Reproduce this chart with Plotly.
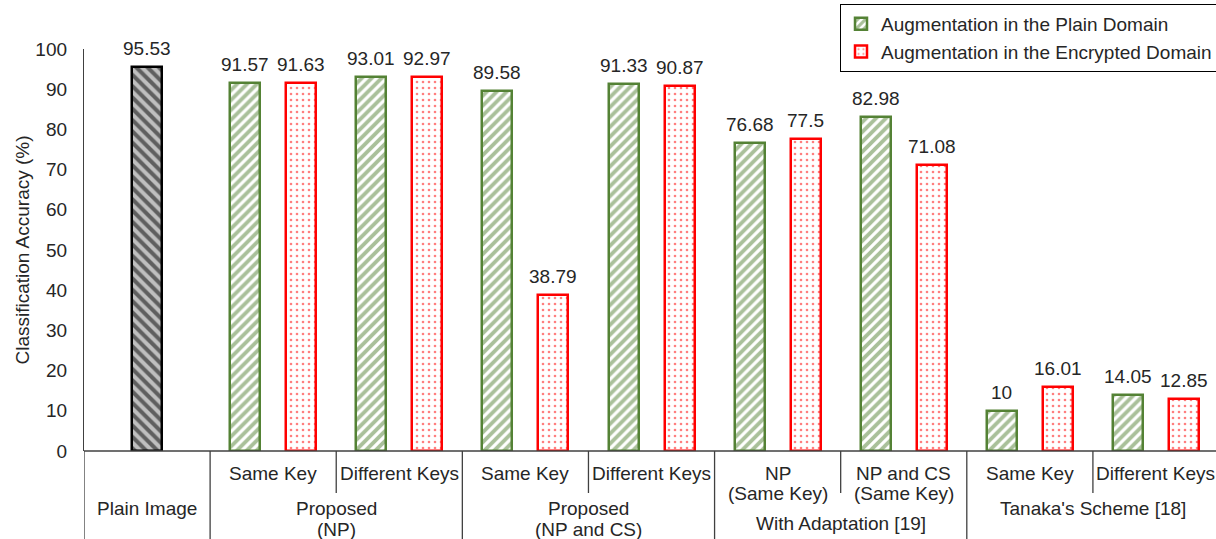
import plotly.graph_objects as go

# ---- data ----
sub_labels = ["Same Key", "Different Keys", "Same Key", "Different Keys",
              "NP", "NP and CS", "Same Key", "Different Keys"]
sub_labels2 = ["", "", "", "", "(Same Key)", "(Same Key)", "", ""]
plain_label = "Plain Image"
plain_value = [95.53]
plain_domain = [91.57, 93.01, 89.58, 91.33, 76.68, 82.98, 10, 14.05]
encrypted_domain = [91.63, 92.97, 38.79, 90.87, 77.5, 71.08, 16.01, 12.85]
group_labels = [["Proposed", "(NP)"], ["Proposed", "(NP and CS)"],
                ["With Adaptation [19]"], ["Tanaka's Scheme [18]"]]
legend_names = ["Augmentation in the Plain Domain", "Augmentation in the Encrypted Domain"]
y_ticks = list(range(0, 101, 10))

FONT = "Liberation Sans, Arial, sans-serif"
TXT = "#262626"
GREEN = "#548235"
RED = "#FF0000"
FS = 19

W, H = 1216, 539
PLOT_TOP, PLOT_BOT = 49, 451
ML, MT = 84, PLOT_TOP
MB = H - PLOT_BOT
PH = PLOT_BOT - PLOT_TOP


def py(pix):
    """pixel y -> paper y"""
    return (PLOT_BOT - pix) / PH


sub_x = list(range(1, 1 + len(sub_labels)))
bw = 0.238
goff = 0.222

fig = go.Figure()
fig.add_trace(go.Bar(
    x=[0], y=plain_value, width=bw, showlegend=False,
    marker=dict(color="#bfbfbf", line=dict(color="black", width=2.5),
                pattern=dict(shape="\\", fgcolor="black", bgcolor="#bfbfbf", size=8, solidity=0.5)),
))
fig.add_trace(go.Bar(
    x=sub_x, y=plain_domain, width=bw, offset=-goff - bw / 2, name=legend_names[0],
    marker=dict(color="white", line=dict(color=GREEN, width=2.5),
                pattern=dict(shape="/", fgcolor=GREEN, bgcolor="white", size=7, solidity=0.55)),
))
fig.add_trace(go.Bar(
    x=sub_x, y=encrypted_domain, width=bw, offset=goff - bw / 2, name=legend_names[1],
    marker=dict(color="white", line=dict(color=RED, width=2.5),
                pattern=dict(shape=".", fgcolor=RED, bgcolor="white", size=6, solidity=0.15)),
))

ann = []


def vlabel(x, v):
    ann.append(dict(x=x, y=v, xref="x", yref="y", text=f"{v:g}", showarrow=False,
                    xanchor="center", yanchor="bottom", yshift=6,
                    font=dict(size=FS, color=TXT, family=FONT)))


for xv, v in zip([0], plain_value):
    vlabel(xv, v)
for xv, v in zip(sub_x, plain_domain):
    vlabel(xv - goff, v)
for xv, v in zip(sub_x, encrypted_domain):
    vlabel(xv + goff, v)

shapes = []
AX = "#404040"
shapes.append(dict(type="line", xref="paper", yref="paper", x0=0, x1=1, y0=0, y1=0,
                   line=dict(color=AX, width=1.3)))
for xv in [-0.5, 0.5, 2.5, 4.5, 6.5]:
    shapes.append(dict(type="line", xref="x", yref="paper", x0=xv, x1=xv, y0=0, y1=py(545),
                       line=dict(color=AX, width=1.3)))
for xv in [1.5, 3.5, 5.5, 7.5]:
    shapes.append(dict(type="line", xref="x", yref="paper", x0=xv, x1=xv, y0=0, y1=py(493),
                       line=dict(color=AX, width=1.3)))


def label(x, pix_y, text):
    ann.append(dict(x=x, y=py(pix_y), xref="x", yref="paper", text=text, showarrow=False,
                    xanchor="center", yanchor="middle",
                    font=dict(size=FS, color=TXT, family=FONT)))


for xv, t1, t2 in zip(sub_x, sub_labels, sub_labels2):
    label(xv, 473, t1)
    if t2:
        label(xv, 494, t2)
label(0, 508, plain_label)
group_centers = [1.5, 3.5, 5.5, 7.5]
group_rows = [[508, 529], [508, 529], [523], [508]]
for xc, lines, rows in zip(group_centers, group_labels, group_rows):
    for t, r in zip(lines, rows):
        label(xc, r, t)

fig.update_layout(
    width=W, height=H,
    margin=dict(l=ML, r=0, t=MT, b=MB, autoexpand=False),
    plot_bgcolor="white", paper_bgcolor="white",
    font=dict(family=FONT, size=FS, color=TXT),
    shapes=shapes, annotations=ann,
    bargap=0,
    xaxis=dict(range=[-0.5, 8.476], showticklabels=False, ticks="", showgrid=False,
               zeroline=False, showline=False),
    yaxis=dict(range=[0, 100], tickvals=y_ticks, showgrid=False, zeroline=False,
               showline=True, linecolor=AX, linewidth=1.3, ticks="",
               tickfont=dict(size=FS, color=TXT, family=FONT), ticklabelstandoff=12,
               title=dict(text="Classification Accuracy (%)", standoff=0,
                          font=dict(size=FS, color=TXT, family=FONT))),
    legend=dict(x=(840 - 84) / 1132, xanchor="left", y=py(4), yanchor="top", bordercolor="black",
                borderwidth=1, bgcolor="white", font=dict(size=FS, color=TXT, family=FONT),
                itemwidth=30, tracegroupgap=0),
)

fig.write_html("out.html", config={"displayModeBar": False},
               post_script="document.body.style.margin='0px';document.body.style.overflow='hidden';")
